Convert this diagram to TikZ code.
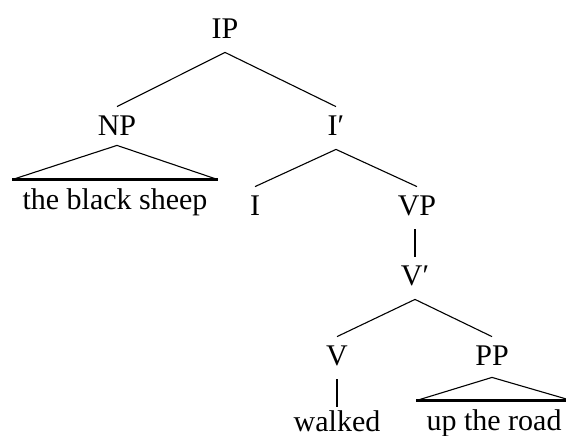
\documentclass[tikz,border=0pt]{standalone}
\usepackage{fontspec}
\setmainfont{Liberation Serif}
\begin{document}
\begin{tikzpicture}[x=0.5pt,y=-0.5pt,
  every node/.style={font=\fontsize{15}{18}\selectfont},
  cat/.style={anchor=base,inner xsep=0pt,inner ysep=0pt,text height=14pt,text depth=7pt},
  word/.style={anchor=base,inner xsep=0pt,inner ysep=0pt,text height=12pt,text depth=0.5pt},
  leaf/.style={anchor=base,inner xsep=5pt,inner ysep=0pt,text height=14.5pt,text depth=2pt},
  branch/.style={line width=0.55pt},
  stem/.style={line width=1.1pt},
  base/.style={line width=1.2pt}]
\useasboundingbox (0,0) rectangle (566,435);
% categories (placed by baseline)
\node[cat] (IP)  at (225,38)  {IP};
\node[cat] (NP)  at (117,135) {NP};
\node[cat] (Ib)  at (336,135) {I′};
\node[cat] (I)   at (255,215) {I};
\node[cat] (VP)  at (417,215) {VP};
\node[cat] (Vb)  at (415,285) {V′};
\node[cat] (V)   at (337,365) {V};
\node[cat] (PP)  at (492,365) {PP};
% words
\node[leaf] (sheep)  at (115,209) {the black sheep};
\node[word] (walked) at (337,431) {walked};
\node[leaf] (road)   at (494,430) {up the road};
% branches
\draw[branch] (NP.north) -- (IP.south) -- (Ib.north);
\draw[branch] (I.north) -- (Ib.south) -- (VP.north);
\draw[branch] (V.north) -- (Vb.south) -- (PP.north);
\draw[stem] (VP.south -| Vb.north) -- (Vb.north);
\draw[stem] (V.south) -- (walked.north);
% triangles
\draw[branch] (sheep.north west) -- ([yshift=2pt]NP.south) -- (sheep.north east);
\draw[base] (sheep.north west) -- (sheep.north east);
\draw[branch] (road.north west) -- ([yshift=1pt]PP.south) -- (road.north east);
\draw[base] (road.north west) -- (road.north east);
\end{tikzpicture}
\end{document}
